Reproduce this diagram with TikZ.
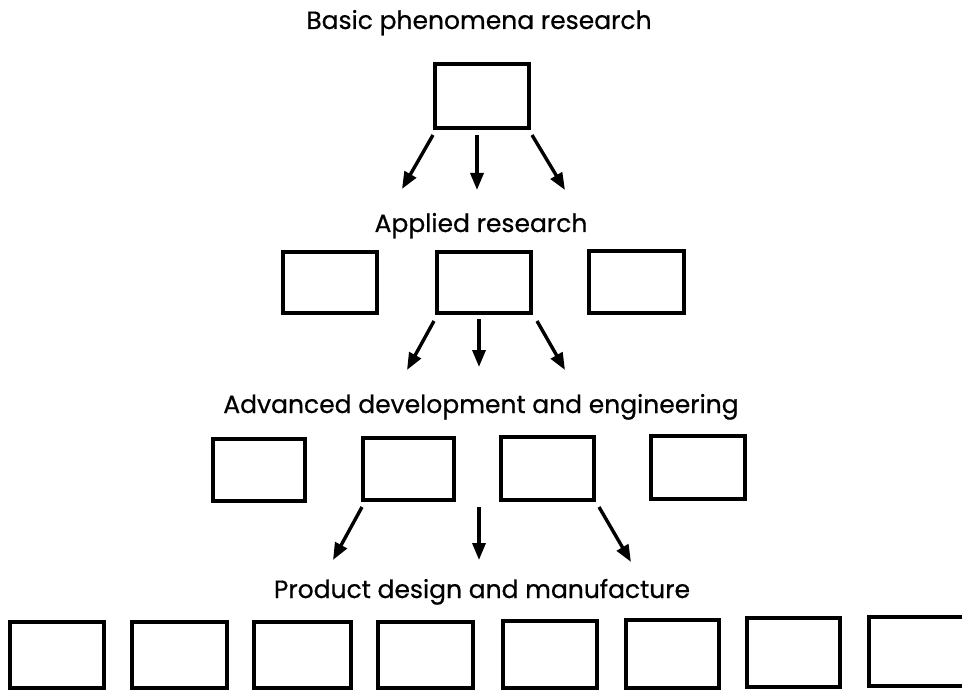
\documentclass[tikz,border=0pt]{standalone}
\usepackage{fontspec}
\setmainfont{Poppins}[FakeBold=0.6]
\usetikzlibrary{arrows.meta}
\begin{document}
\begin{tikzpicture}[x=1pt,y=-1pt,
  rbox/.style={draw=black, line width=3.4pt, rectangle, inner sep=0pt},
  level/.style={anchor=base, inner sep=0pt, font=\fontsize{25}{28}\selectfont},
  flow/.style={line width=3.4pt, -{Triangle[length=17pt,width=13pt]}}]
\useasboundingbox (0,0) rectangle (962,690);

% level labels
\node[level] (lab1) at (479,29)  {Basic phenomena research};
\node[level] (lab2) at (481,232) {Applied research};
\node[level] (lab3) at (481,413) {Advanced development and engineering};
\node[level] (lab4) at (482,598) {Product design and manufacture};

% basic research
\node[rbox, minimum width=94pt, minimum height=64pt] (top) at (482,96) {};

% applied research
\node[rbox, minimum width=94pt, minimum height=61pt] (ar1) at (330,282.5) {};
\node[rbox, minimum width=94pt, minimum height=61pt] (ar2) at (484,282.5) {};
\node[rbox, minimum width=95pt, minimum height=62pt] (ar3) at (636.5,282) {};

% advanced development
\node[rbox, minimum width=92pt, minimum height=62pt] (ad1) at (259,470) {};
\node[rbox, minimum width=91pt, minimum height=62pt] (ad2) at (408.5,469) {};
\node[rbox, minimum width=93pt, minimum height=63pt] (ad3) at (547.5,468.5) {};
\node[rbox, minimum width=94pt, minimum height=63pt] (ad4) at (698,467.5) {};

% product design and manufacture
\node[rbox, minimum width=94pt, minimum height=66pt] (pd1) at (57,655) {};
\node[rbox, minimum width=95pt, minimum height=66pt] (pd2) at (179.5,655) {};
\node[rbox, minimum width=97pt, minimum height=66pt] (pd3) at (302.5,655) {};
\node[rbox, minimum width=95pt, minimum height=66pt] (pd4) at (425.5,655) {};
\node[rbox, minimum width=94pt, minimum height=67pt] (pd5) at (550,654.5) {};
\node[rbox, minimum width=93pt, minimum height=68pt] (pd6) at (672.5,654) {};
\node[rbox, minimum width=93pt, minimum height=69pt] (pd7) at (793.5,652.5) {};
\node[rbox, minimum width=97pt, minimum height=69pt] (pd8) at (917.5,651.5) {};

% arrow end points
\coordinate (s1a) at (433,135); \coordinate (e1a) at (402,189);
\coordinate (s1b) at (477,135); \coordinate (e1b) at (477,190);
\coordinate (s1c) at (532,135); \coordinate (e1c) at (565,190);
\coordinate (s2a) at (434,321); \coordinate (e2a) at (407,370);
\coordinate (s2b) at (479,319); \coordinate (e2b) at (479,367);
\coordinate (s2c) at (537,321); \coordinate (e2c) at (565,370);
\coordinate (s3a) at (362,507); \coordinate (e3a) at (333,560);
\coordinate (s3b) at (479,507); \coordinate (e3b) at (479,560);
\coordinate (s3c) at (599,507); \coordinate (e3c) at (631,562);

\draw[flow] (s1a) -- (e1a);
\draw[flow] (s1b) -- (e1b);
\draw[flow] (s1c) -- (e1c);
\draw[flow] (s2a) -- (e2a);
\draw[flow] (s2b) -- (e2b);
\draw[flow] (s2c) -- (e2c);
\draw[flow] (s3a) -- (e3a);
\draw[flow] (s3b) -- (e3b);
\draw[flow] (s3c) -- (e3c);
\end{tikzpicture}
\end{document}
